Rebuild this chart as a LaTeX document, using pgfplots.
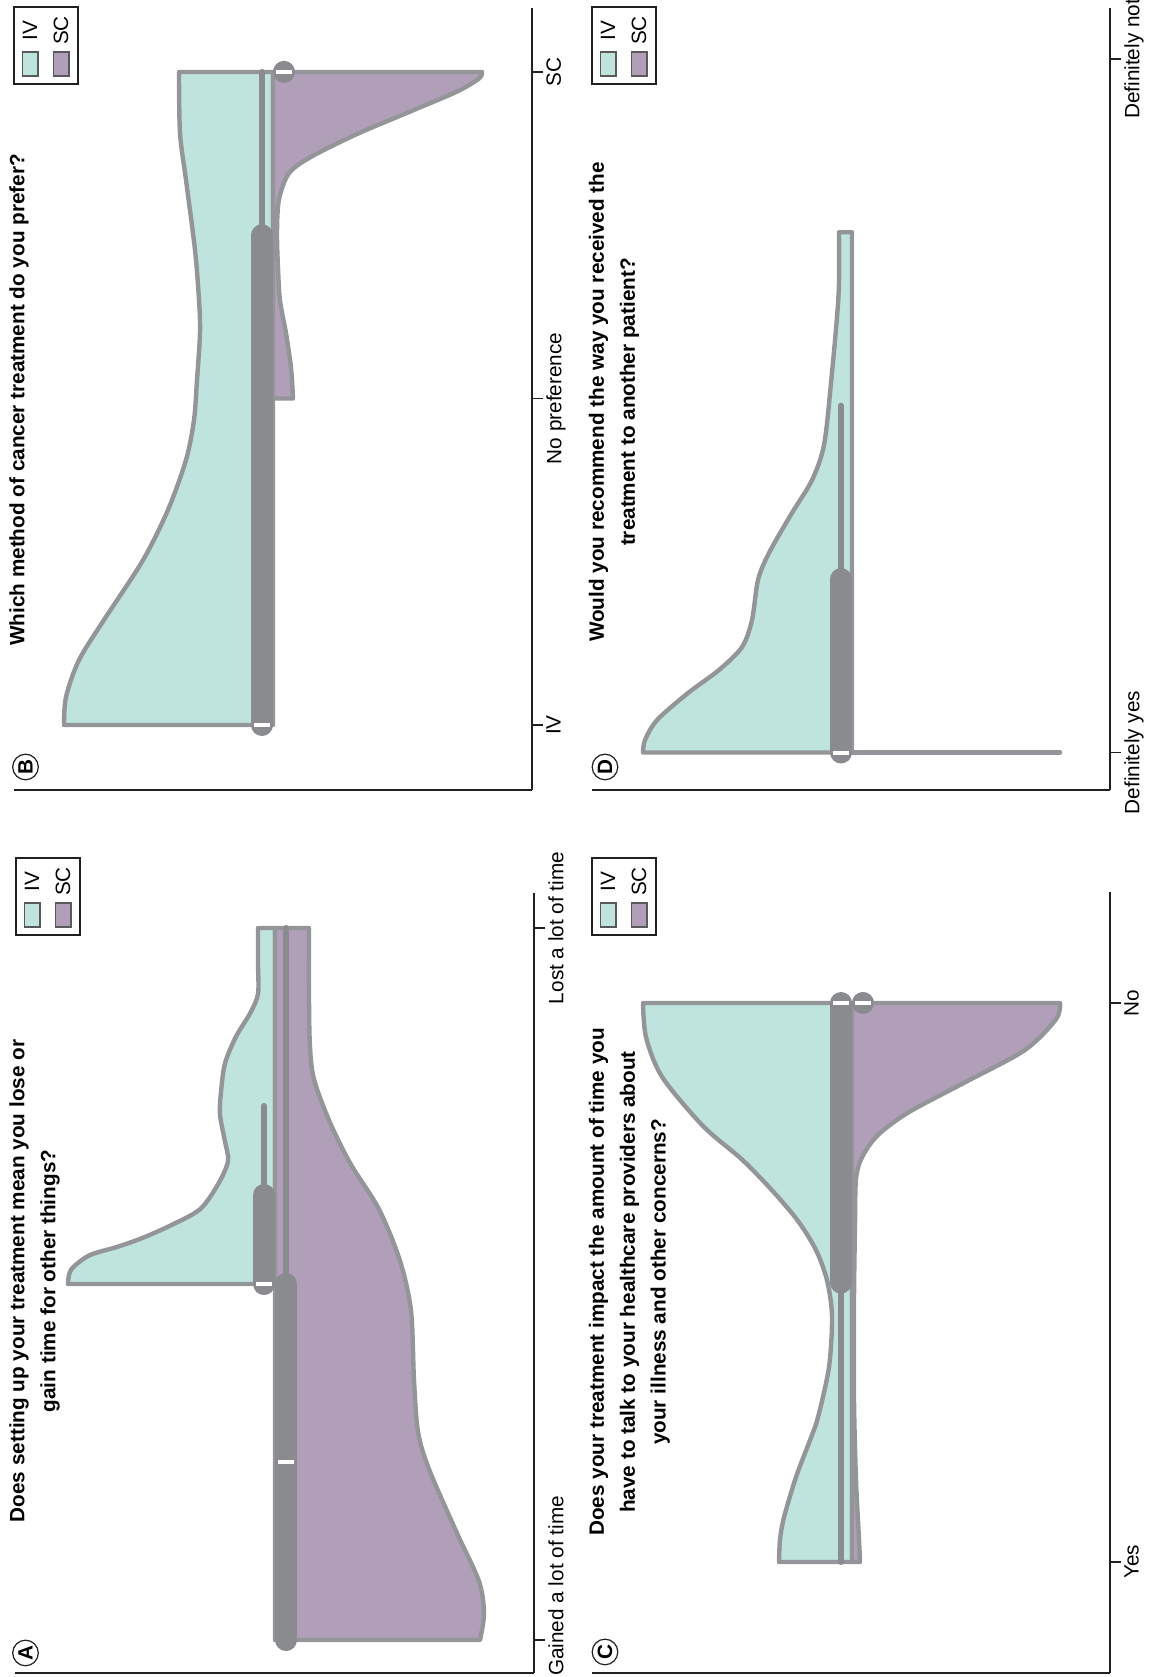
\documentclass[border=0pt]{standalone}
\usepackage{pgfplots}
\pgfplotsset{compat=1.18}
\usepackage{fontspec}
\setmainfont{Liberation Sans}

\definecolor{ivfill}{HTML}{BFE3DD}
\definecolor{scfill}{HTML}{B19FBA}
\definecolor{vline}{HTML}{939598}
\definecolor{boxgray}{HTML}{8A8B8E}
\definecolor{axisblack}{HTML}{231F20}
\definecolor{swatchline}{HTML}{58595B}

% Split violins, drawn sideways: value runs up the page, density runs
% across it (IV to the left of the centre line, SC to the right).
% Each half is a smoothed density curve closed along the centre line x=0.
\pgfplotsset{
  panel/.style={
    scale only axis,
    anchor=south west,
    axis x line*=bottom,
    axis y line*=right,
    axis line style={axisblack, line width=0.65bp},
    xtick=\empty,
    tick align=outside,
    major tick length=5.5bp,
    ytick style={axisblack, line width=0.65bp},
    yticklabel style={rotate=90, anchor=north, inner sep=1.5bp,
      font=\fontsize{10.4}{12}\selectfont},
    clip=false,
  },
  ivhalf/.style={smooth, fill=ivfill, draw=vline, line width=2.2bp, line join=round},
  schalf/.style={smooth, fill=scfill, draw=vline, line width=2.2bp, line join=round},
  boxbar/.style={boxgray, line width=11bp, line cap=round},
  whisk/.style={boxgray, line width=3bp, line cap=round},
  med/.style={white, line width=2bp},
}

\begin{document}
\begin{tikzpicture}[font=\fontsize{10.4}{12.5}\selectfont]

% ---------------- A: time lost or gained ----------------
\begin{axis}[panel, at={(7.5bp,-836.5bp)}, width=259.5bp, height=390bp,
  xmin=-260, xmax=259, ymin=0.8146, ymax=5.1966,
  ytick={5}, yticklabels={Lost a lot of time},
  extra y ticks={1}, extra y tick labels={Gained a lot of time},
  extra y tick style={yticklabel style={xshift=27bp}}]
\addplot[ivhalf] coordinates {(-207,3.00) (-204,3.08) (-186,3.16)
  (-157,3.21) (-132,3.26) (-104,3.33) (-75,3.42) (-57,3.56) (-47,3.69) (-50,3.80)
  (-55,3.95) (-54,4.08) (-50,4.24) (-39,4.39) (-25,4.52) (-17,4.63) (-17,4.80) (-17,5.00)}
  -- (0,5) -- (0,3) -- cycle;
\addplot[schalf] coordinates {(205,1.00) (209,1.15) (204,1.33)
  (182,1.60) (154,1.96) (143,2.17) (139,2.46) (136,2.85) (125,3.13) (104,3.42)
  (75,3.68) (54,3.92) (39,4.15) (35,4.33) (34,4.60) (34,5.00)}
  -- (0,5) -- (0,1) -- cycle;
\addplot[whisk] coordinates {(-11,3.5) (-11,4)};
\addplot[boxbar] coordinates {(-11,3) (-11,3.5)};
\addplot[med] coordinates {(-19,3) (-3,3)};
\addplot[whisk] coordinates {(11,3) (11,5)};
\addplot[boxbar] coordinates {(11,1) (11,3)};
\addplot[med] coordinates {(3,2) (19,2)};
\end{axis}

% ---------------- B: preferred method ----------------
\begin{axis}[panel, at={(7bp,-395bp)}, width=259bp, height=391bp,
  xmin=-259, xmax=259, ymin=0.8009, ymax=3.1960,
  ytick={1,2,3}, yticklabels={IV, No preference, SC}]
\addplot[ivhalf] coordinates {(-209,1.000) (-207,1.086) (-194,1.199)
  (-169,1.322) (-130,1.505) (-105,1.659) (-87,1.812) (-79,1.934) (-76,2.057)
  (-73,2.201) (-74,2.302) (-78,2.455) (-87,2.669) (-93,2.813) (-94,3.000)}
  -- (0,3) -- (0,1) -- cycle;
\addplot[schalf] coordinates {(20,2.000) (18,2.095) (13,2.200)
  (7,2.300) (5,2.400) (4,2.510) (6,2.610) (16,2.690) (38,2.740) (84,2.810)
  (138,2.880) (184,2.940) (206,2.980) (209,3.000)}
  -- (0,3) -- (0,2) -- cycle;
\addplot[whisk] coordinates {(-11,2.5) (-11,3)};
\addplot[boxbar] coordinates {(-11,1) (-11,2.5)};
\addplot[med] coordinates {(-19,1) (-3,1)};
\addplot[boxbar] coordinates {(11,3) (11,3.0005)};
\addplot[med] coordinates {(3,3) (19,3)};
\end{axis}

% ---------------- C: time with healthcare providers ----------------
\begin{axis}[panel, at={(296bp,-836.5bp)}, width=259bp, height=390.5bp,
  xmin=-260, xmax=258, ymin=0.8014, ymax=2.1986,
  ytick={1,2}, yticklabels={Yes, No}]
\addplot[ivhalf] coordinates {(-73,1.000) (-72,1.040) (-68,1.080)
  (-56,1.152) (-42,1.218) (-34,1.259) (-23,1.349) (-20,1.440) (-25,1.504)
  (-36,1.558) (-54,1.610) (-80,1.665) (-110,1.720) (-149,1.780) (-190,1.868)
  (-206,1.939) (-209,2.000)}
  -- (0,2) -- (0,1) -- cycle;
\addplot[schalf] coordinates {(8,1.000) (7,1.040) (4,1.147)
  (2,1.290) (2,1.470) (3,1.605) (4,1.685) (10,1.724) (26,1.764) (57,1.805)
  (115,1.860) (173,1.916) (204,1.971) (208,2.000)}
  -- (0,2) -- (0,1) -- cycle;
\addplot[whisk] coordinates {(-11,1) (-11,1.5)};
\addplot[boxbar] coordinates {(-11,1.5) (-11,2)};
\addplot[med] coordinates {(-19,2) (-3,2)};
\addplot[boxbar] coordinates {(11,2) (11,2.0002)};
\addplot[med] coordinates {(3,2) (19,2)};
\end{axis}

% ---------------- D: recommend to another patient ----------------
\begin{axis}[panel, at={(296bp,-395bp)}, width=259bp, height=391bp,
  xmin=-260, xmax=258, ymin=0.7837, ymax=5.2935,
  ytick={1,5}, yticklabels={Definitely yes, Definitely not}]
\addplot[ivhalf] coordinates {(-209,1.000) (-207,1.072) (-195,1.187)
  (-164,1.343) (-133,1.476) (-110,1.608) (-100,1.764) (-94,1.995) (-83,2.151)
  (-60,2.382) (-40,2.571) (-28,2.773) (-21,3.131) (-15,3.512) (-13,3.708) (-13,4.000)}
  -- (0,4) -- (0,1) -- cycle;
\addplot[draw=vline, line width=2.2bp, line cap=round] coordinates {(0,1) (208,1)};
\addplot[whisk] coordinates {(-11,2) (-11,3)};
\addplot[boxbar] coordinates {(-11,1) (-11,2)};
\addplot[med] coordinates {(-19,1) (-3,1)};
\end{axis}

% ---------------- titles, panel letters, legends ----------------
\begin{scope}[x=0.5bp, y=-0.5bp]
\tikzset{
  qtitle/.style={rotate=90, anchor=north, inner sep=0, align=center,
    font=\bfseries\fontsize{10.4}{15.5}\selectfont},
  letter/.style={circle, draw=axisblack, line width=0.6bp, inner sep=0,
    minimum size=12.8bp, rotate=90, font=\bfseries\fontsize{10.4}{12}\selectfont},
}
\node[qtitle] at (9,1281) {Does setting up your treatment mean you lose or\\gain time for other things?};
\node[qtitle] at (9,400) {Which method of cancer treatment do you prefer?};
\node[qtitle] at (588.5,1282) {Does your treatment impact the amount of time you\\have to talk to your healthcare providers about\\your illness and other concerns?};
\node[qtitle] at (588.5,402) {Would you recommend the way you received the\\treatment to another patient?};

\node[letter] at (25.5,1653) {A};
\node[letter] at (25.5,767) {B};
\node[letter] at (605,1652) {C};
\node[letter] at (605,767) {D};

\foreach \lx/\ly in {16/858, 14/7, 592/858, 592/7}{
  \draw[axisblack, line width=0.6bp] (\lx,\ly) rectangle ++(64,77);
  \draw[swatchline, fill=ivfill, line width=0.6bp] (\lx+8.5,\ly+45) rectangle ++(15.5,24);
  \draw[swatchline, fill=scfill, line width=0.6bp] (\lx+39.5,\ly+45) rectangle ++(15.5,24);
  \node[rotate=90, inner sep=0] at (\lx+16,\ly+23.5) {IV};
  \node[rotate=90, inner sep=0] at (\lx+47,\ly+23.5) {SC};
}
\end{scope}

\pgfresetboundingbox
\useasboundingbox (0,0) rectangle (574.5bp,-838.5bp);
\end{tikzpicture}
\end{document}
